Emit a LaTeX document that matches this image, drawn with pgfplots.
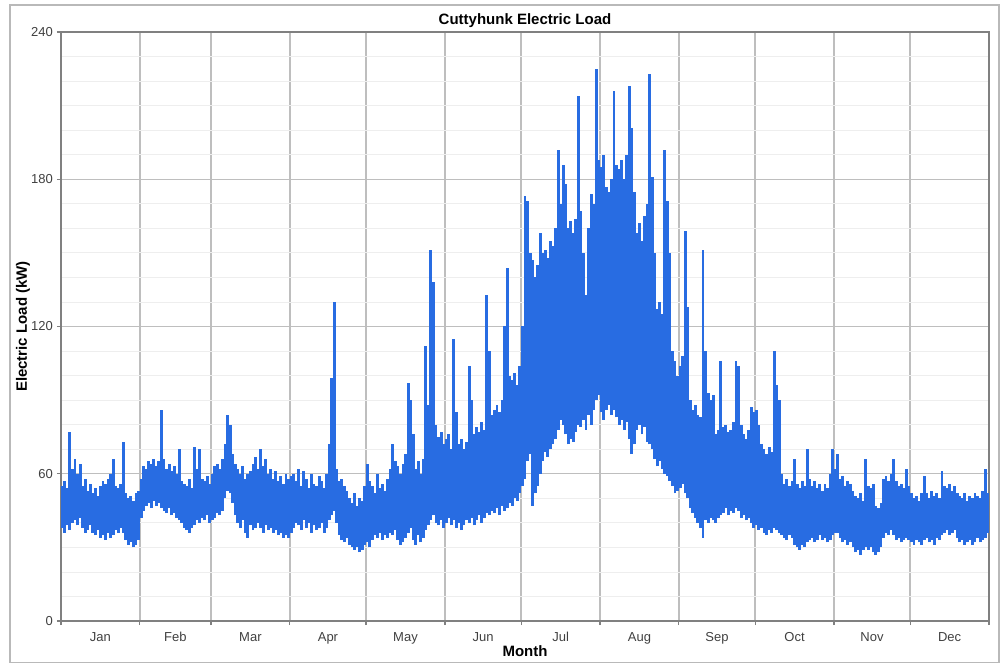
\documentclass[border=0pt]{standalone}
\usepackage{pgfplots}
\usepackage{pgfplotstable}
\usepackage{fontspec}
\setmainfont{Liberation Sans}
\pgfplotsset{compat=1.18}
\definecolor{loadblue}{RGB}{40,108,226}
\definecolor{framegray}{RGB}{128,128,128}
\definecolor{gridgray}{RGB}{190,190,190}
\definecolor{minorgray}{RGB}{238,238,238}
\pgfplotstableread{
d lo hi
0 38 55
1 36 57
2 39 54
3 37 77
4 40 62
5 41 66
6 39 60
7 42 64
8 38 55
9 36 58
10 37 53
11 39 56
12 36 52
13 35 54
14 37 51
15 34 55
16 35 57
17 33 56
18 36 58
19 34 60
20 35 66
21 37 55
22 36 54
23 38 56
24 36 73
25 33 52
26 31 50
27 32 51
28 30 49
29 31 52
30 33 53
31 42 58
32 45 63
33 47 62
34 48 65
35 46 64
36 49 66
37 47 63
38 48 65
39 46 86
40 45 66
41 44 62
42 46 64
43 43 61
44 44 63
45 42 60
46 41 70
47 40 57
48 38 56
49 37 55
50 36 58
51 38 54
52 39 71
53 41 62
54 40 70
55 42 58
56 41 57
57 43 59
58 40 56
59 41 60
60 42 63
61 44 64
62 43 62
63 45 66
64 50 72
65 53 84
66 52 80
67 48 68
68 43 64
69 40 62
70 38 60
71 41 63
72 36 58
73 34 60
74 39 61
75 37 64
76 38 67
77 40 62
78 38 70
79 36 63
80 39 66
81 37 60
82 38 62
83 36 58
84 37 61
85 35 57
86 36 59
87 34 56
88 35 60
89 34 58
90 36 59
91 38 60
92 40 57
93 39 62
94 37 55
95 41 61
96 38 58
97 40 54
98 36 60
99 39 56
100 37 55
101 38 59
102 40 57
103 36 54
104 38 60
105 41 72
106 43 99
107 45 130
108 40 62
109 35 57
110 33 58
111 32 55
112 34 53
113 31 50
114 30 48
115 29 52
116 30 47
117 28 50
118 29 49
119 31 55
120 32 64
121 30 57
122 33 55
123 35 52
124 34 60
125 36 54
126 33 56
127 35 53
128 34 58
129 36 62
130 35 72
131 37 65
132 33 63
133 31 60
134 32 64
135 34 68
136 36 97
137 38 90
138 33 76
139 31 62
140 35 65
141 32 60
142 34 66
143 37 112
144 39 88
145 41 151
146 43 138
147 40 80
148 39 75
149 41 77
150 38 72
151 40 74
152 42 76
153 39 70
154 41 115
155 38 85
156 40 72
157 37 74
158 39 70
159 41 73
160 40 104
161 42 90
162 39 76
163 41 79
164 43 77
165 40 81
166 42 78
167 44 133
168 43 110
169 45 84
170 44 86
171 46 88
172 43 85
173 47 90
174 45 120
175 46 144
176 48 100
177 47 98
178 50 101
179 49 96
180 52 104
181 55 120
182 58 173
183 65 171
184 68 150
185 47 147
186 52 140
187 55 145
188 60 158
189 65 150
190 69 151
191 67 148
192 70 155
193 72 153
194 74 160
195 78 192
196 82 170
197 80 186
198 76 178
199 72 160
200 74 163
201 73 158
202 77 164
203 80 214
204 79 167
205 82 150
206 78 133
207 84 160
208 80 174
209 86 170
210 90 225
211 92 188
212 85 185
213 82 190
214 86 177
215 88 175
216 84 180
217 86 216
218 83 186
219 80 184
220 82 188
221 78 180
222 81 190
223 74 218
224 68 201
225 72 175
226 78 158
227 80 162
228 76 155
229 79 165
230 73 170
231 72 223
232 70 181
233 66 150
234 63 127
235 65 130
236 62 125
237 60 192
238 59 171
239 57 150
240 55 110
241 52 106
242 53 100
243 54 104
244 56 108
245 52 159
246 50 128
247 46 90
248 44 86
249 42 88
250 40 84
251 38 83
252 34 151
253 41 110
254 40 93
255 42 90
256 41 92
257 40 76
258 42 78
259 43 106
260 44 79
261 46 80
262 43 77
263 45 78
264 44 81
265 46 106
266 45 104
267 42 80
268 43 76
269 41 74
270 42 78
271 40 87
272 38 85
273 39 86
274 37 80
275 38 72
276 36 70
277 35 68
278 37 71
279 36 69
280 38 110
281 37 96
282 36 90
283 35 60
284 34 56
285 33 58
286 35 55
287 34 57
288 31 66
289 30 56
290 29 54
291 31 57
292 30 55
293 32 70
294 33 58
295 34 55
296 32 57
297 33 54
298 35 56
299 33 53
300 34 56
301 32 54
302 33 60
303 35 70
304 36 62
305 36 68
306 34 58
307 32 59
308 33 55
309 31 57
310 32 56
311 30 53
312 28 51
313 29 50
314 27 52
315 29 49
316 30 66
317 29 55
318 30 54
319 28 56
320 27 47
321 28 46
322 30 48
323 34 58
324 36 59
325 35 57
326 37 60
327 35 66
328 33 57
329 34 55
330 32 56
331 33 54
332 34 62
333 33 55
334 32 52
335 31 50
336 33 51
337 32 49
338 31 52
339 33 59
340 34 52
341 32 50
342 33 53
343 31 51
344 34 52
345 33 50
346 35 61
347 36 55
348 37 54
349 35 56
350 36 53
351 37 55
352 34 52
353 32 51
354 33 50
355 31 52
356 32 49
357 33 51
358 31 50
359 32 52
360 34 51
361 32 50
362 33 53
363 34 62
364 36 52
}\loadtable
\begin{document}
\begin{tikzpicture}
\useasboundingbox (0pt,0pt) rectangle (500pt,332pt);
\draw[gray!55, line width=0.8pt] (5pt,0.8pt) rectangle (499.4pt,329.5pt);
\begin{axis}[
  at={(30.5pt,21.5pt)}, anchor=south west,
  scale only axis, width=464pt, height=294.5pt,
  xmin=0, xmax=365, ymin=0, ymax=240,
  xtick={0,31,59,90,120,151,181,212,243,273,304,334,365},
  xticklabels={Jan,Feb,Mar,Apr,May,Jun,Jul,Aug,Sep,Oct,Nov,Dec},
  x tick label as interval,
  ytick={0,60,120,180,240},
  minor y tick num=5,
  xmajorgrids, ymajorgrids, yminorgrids,
  major grid style={draw=gridgray, line width=0.7pt},
  minor grid style={draw=minorgray, line width=0.4pt},
  axis line style={draw=framegray, line width=1pt},
  tick pos=left, tick align=outside,
  major tick length=2pt, minor tick length=0pt,
  tick style={draw=framegray, line width=0.6pt},
  /pgf/number format/assume math mode=true,
  ticklabel style={font=\fontsize{6.5}{7}\selectfont, text=black!75},
  xticklabel style={anchor=base, yshift=-8pt},
  yticklabel style={xshift=1.5pt},
  title={Cuttyhunk Electric Load},
  title style={font=\fontsize{7.5}{8}\selectfont\bfseries, at={(axis description cs:0.5,1.022)}, anchor=center, yshift=-7pt},
  xlabel={Month},
  xlabel style={font=\fontsize{7.5}{8}\selectfont\bfseries, at={(axis description cs:0.5,-0.051)}, anchor=center},
  ylabel={Electric Load (kW)},
  ylabel style={font=\fontsize{7.5}{8}\selectfont\bfseries, at={(axis description cs:-0.041,0.5)}, anchor=center},
]
\addplot[draw=none, no markers, forget plot,
  error bars/.cd, y dir=plus, y explicit, error mark=none,
  error bar style={draw=loadblue, line width=1.45pt, line cap=butt}]
  table[x expr=\thisrow{d}+0.5, y=lo, y error plus expr=\thisrow{hi}-\thisrow{lo}] {\loadtable};
\end{axis}
\end{tikzpicture}
\end{document}
